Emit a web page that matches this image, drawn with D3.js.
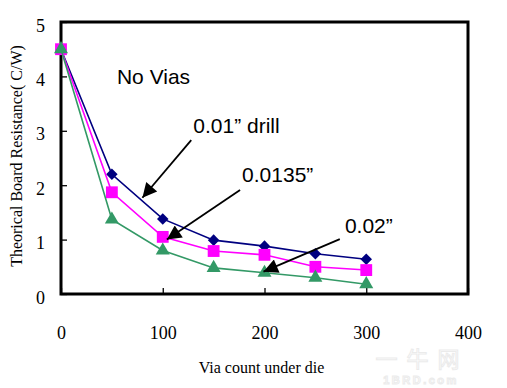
<!DOCTYPE html>
<html>
<head>
<meta charset="utf-8">
<script src="https://cdn.jsdelivr.net/npm/d3@7"></script>
<style>
  body { margin: 0; background: #fff; }
  svg { display: block; }
</style>
</head>
<body>
<svg></svg>
<script>
// board resistance vs via count, three drill sizes
const width = 507;
const height = 388;

const viaCounts = [0, 50, 100, 150, 200, 250, 300];
const drill010 = [4.5, 2.2, 1.38, 0.99, 0.88, 0.74, 0.64];
const drill0135 = [4.5, 1.87, 1.05, 0.79, 0.72, 0.5, 0.44];
const drill020 = [4.5, 1.37, 0.8, 0.48, 0.39, 0.3, 0.18];

const xTicks = [0, 100, 200, 300, 400];
const yTicks = [0, 1, 2, 3, 4, 5];

// callouts, in data units
const labels = [
  { text: "No Vias", x: 55, y: 3.86 },
  { text: "0.01\u201d drill", x: 130, y: 2.96 },
  { text: "0.0135\u201d", x: 178, y: 2.06 },
  { text: "0.02\u201d", x: 279, y: 1.12 }
];
const arrows = [
  { x1: 128, y1: 2.83, x2: 80, y2: 1.77 },
  { x1: 176, y1: 1.91, x2: 104, y2: 1.0 },
  { x1: 274, y1: 1.01, x2: 199, y2: 0.41 }
];

const marginTop = 22;
const marginRight = 39;
const marginBottom = 94;
const marginLeft = 61;

const svg = d3.select("svg")
  .attr("width", width)
  .attr("height", height);

const x = d3.scaleLinear()
  .domain([0, 400])
  .range([marginLeft, width - marginRight]);

const y = d3.scaleLinear()
  .domain([0, 5])
  .range([height - marginBottom, marginTop]);

const serif = "'Liberation Serif', 'Times New Roman', serif";
const sans = "'Liberation Sans', Arial, sans-serif";

//faint watermark bottom right
svg.append("text")
  .attr("x", 422)
  .attr("y", 367)
  .attr("text-anchor", "middle")
  .attr("font-family", "'Noto Sans CJK SC', sans-serif")
  .attr("font-size", 22)
  .attr("letter-spacing", 9)
  .attr("fill", "#fff")
  .attr("stroke", "#ebebeb")
  .attr("stroke-width", 1)
  .text("一牛网");
svg.append("text")
  .attr("x", 421)
  .attr("y", 384)
  .attr("text-anchor", "middle")
  .attr("font-family", sans)
  .attr("font-size", 11)
  .attr("font-weight", "bold")
  .attr("letter-spacing", 2.5)
  .attr("fill", "#fff")
  .attr("stroke", "#ebebeb")
  .attr("stroke-width", 1)
  .text("1BRD.com");

// axes with inward ticks
const yAxis = svg.append("g")
  .attr("transform", `translate(${marginLeft},0)`)
  .call(d3.axisLeft(y).tickValues(yTicks).tickSizeInner(-6).tickSizeOuter(0).tickPadding(16).tickFormat(d3.format("d")));

const xAxis = svg.append("g")
  .attr("transform", `translate(0,${height - marginBottom})`)
  .call(d3.axisBottom(x).tickValues(xTicks).tickSizeInner(-6).tickSizeOuter(0).tickPadding(32).tickFormat(d3.format("d")));

[yAxis, xAxis].forEach(g => {
  g.select(".domain").remove();
  g.selectAll("line").attr("stroke", "#000").attr("stroke-width", 1.3);
  g.selectAll("text")
    .attr("fill", "#000")
    .attr("font-family", serif)
    .attr("font-size", 18);
});
yAxis.selectAll("text").attr("dy", "0.5em");

// thick frame
svg.append("rect")
  .attr("x", x(0))
  .attr("y", y(5))
  .attr("width", x(400) - x(0))
  .attr("height", y(0) - y(5))
  .attr("fill", "none")
  .attr("stroke", "#000")
  .attr("stroke-width", 3);

// axis titles
svg.append("text")
  .attr("x", (x(0) + x(400)) / 2 - 3)
  .attr("y", 373)
  .attr("text-anchor", "middle")
  .attr("font-family", serif)
  .attr("font-size", 16)
  .text("Via count under die");

svg.append("text")
  .attr("transform", "translate(22,156) rotate(-90)")
  .attr("text-anchor", "middle")
  .attr("font-family", serif)
  .attr("font-size", 16)
  .text("Theorical Board Resistance( C/W)");

// series
const series = [
  { values: drill010, color: "#000080", shape: d3.symbolDiamond2, size: 85 },
  { values: drill0135, color: "#ff00ff", shape: d3.symbolSquare, size: 140 },
  { values: drill020, color: "#339966", shape: d3.symbolTriangle, size: 85 }
];

const line = d3.line()
  .x((d, i) => x(viaCounts[i]))
  .y(d => y(d));

series.forEach(s => {
  svg.append("path")
    .datum(s.values)
    .attr("d", line)
    .attr("fill", "none")
    .attr("stroke", s.color)
    .attr("stroke-width", 1.6);

  svg.append("g")
    .selectAll("path")
    .data(s.values)
    .enter().append("path")
    .attr("transform", (d, i) => `translate(${x(viaCounts[i])},${y(d)})`)
    .attr("d", d3.symbol().type(s.shape).size(s.size))
    .attr("fill", s.color);
});

// arrow head marker
svg.append("defs").append("marker")
  .attr("id", "head")
  .attr("viewBox", "0 0 10 10")
  .attr("refX", 10)
  .attr("refY", 5)
  .attr("markerWidth", 9)
  .attr("markerHeight", 8)
  .attr("markerUnits", "strokeWidth")
  .attr("orient", "auto")
  .append("path")
  .attr("d", "M0,0 L10,5 L0,10 Z")
  .attr("fill", "#000");

svg.append("g")
  .selectAll("line")
  .data(arrows)
  .enter().append("line")
  .attr("x1", d => x(d.x1))
  .attr("y1", d => y(d.y1))
  .attr("x2", d => x(d.x2))
  .attr("y2", d => y(d.y2))
  .attr("stroke", "#000")
  .attr("stroke-width", 1.8)
  .attr("marker-end", "url(#head)");

svg.append("g")
  .selectAll("text")
  .data(labels)
  .enter().append("text")
  .attr("x", d => x(d.x))
  .attr("y", d => y(d.y))
  .attr("font-family", sans)
  .attr("font-size", 21)
  .attr("fill", "#000")
  .text(d => d.text);
</script>
</body>
</html>
